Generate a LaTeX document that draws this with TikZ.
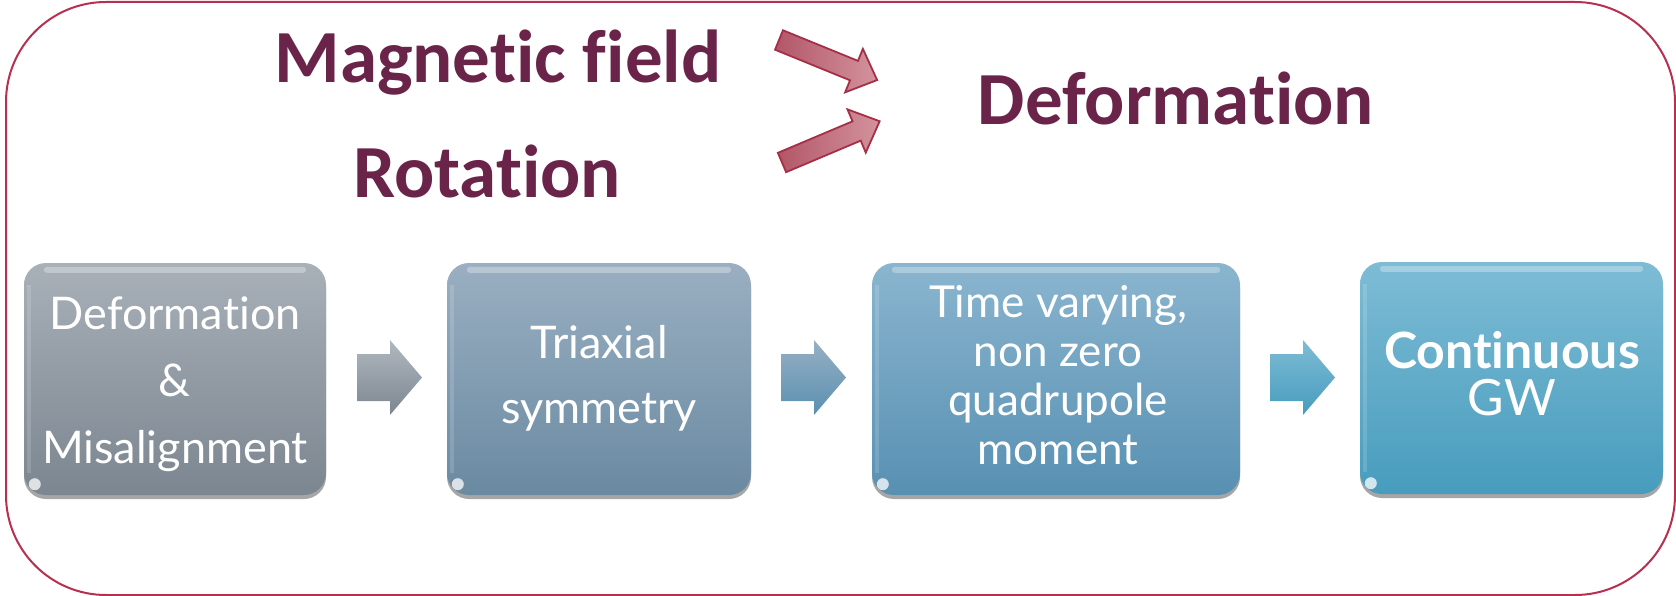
\documentclass[tikz,border=0pt]{standalone}
\usepackage{fontspec}
\setmainfont[Ligatures=NoCommon]{Lato}
\newfontfamily\calib[Ligatures=NoCommon]{Carlito}
\newcommand{\nolig}{\kern0pt }
\usetikzlibrary{shadows,calc}
\definecolor{frame}{HTML}{B8304F}
\definecolor{maroon}{HTML}{6B2449}
\definecolor{gA}{HTML}{A8B0B8}\definecolor{gB}{HTML}{7C8690}
\definecolor{sA}{HTML}{9AAFC1}\definecolor{sB}{HTML}{6A8AA2}
\definecolor{mA}{HTML}{8AB5CF}\definecolor{mB}{HTML}{5890B2}
\definecolor{cA}{HTML}{7EBCD5}\definecolor{cB}{HTML}{479CBD}
\definecolor{rA}{HTML}{B25668}\definecolor{rB}{HTML}{D3939D}\definecolor{rD}{HTML}{A62F48}
\tikzset{
  x=1pt, y=-1pt,
  gbox/.style={rounded corners=22pt, minimum height=232pt, inner sep=0pt,
    drop shadow={shadow xshift=0pt, shadow yshift=-4pt, opacity=0.35, fill=black}},
  btext/.style={text=white, align=center, inner sep=0pt},
  bigtext/.style={text=maroon, font=\calib\bfseries\fontsize{75}{80}\selectfont, inner sep=0pt, anchor=base},
  sarrow/.pic={\path[pic actions] (0,-23.5) -- (33,-23.5) -- (33,-37.5) -- (65,0) -- (33,37.5) -- (33,23.5) -- (0,23.5) -- cycle;},
  rarrow/.pic={\path[pic actions] (0,-10.5) -- (81,-10.5) -- (81,-23.5) -- (106,0) -- (81,23.5) -- (81,10.5) -- (0,10.5) -- cycle;},
  sshadow/.style={drop shadow={shadow xshift=1pt, shadow yshift=-3pt, opacity=0.3, fill=black}},
}
\newcommand{\gloss}[1]{%
  \fill[white, opacity=0.3, rounded corners=3pt] ($(#1.north west)+(20,4)$) rectangle ($(#1.north east)+(-20,10)$);
  \fill[white, opacity=0.15] ($(#1.north west)+(3,22)$) rectangle ($(#1.south west)+(7,-22)$);
  \fill[white, opacity=0.75] ($(#1.south west)+(11,-11)$) circle (6pt);
}
\begin{document}
\begin{tikzpicture}
\useasboundingbox (0,0) rectangle (1676,596);
\draw[frame, line width=2pt, rounded corners=100pt] (6,2) rectangle (1675,595);

% headline texts
\node[bigtext] (mag) at (498,83) {Magnet\nolig ic f\nolig ield};
\node[bigtext] (rot) at (487,198) {Rotat\nolig ion};
\node[bigtext] (def) at (1176,125) {Deformat\nolig ion};

% red block arrows
\pic[draw=rD, line width=1.8pt, left color=rA, right color=rB, rotate=-22.2] (r1) at (779,40) {rarrow};
\pic[draw=rD, line width=1.8pt, left color=rA, right color=rB, rotate=22.9] (r2) at (782,162.5) {rarrow};

% process boxes
\node[gbox, minimum width=302pt, top color=gA, bottom color=gB] (b1) at (175,379) {};
\node[gbox, minimum width=304pt, top color=sA, bottom color=sB] (b2) at (599,379) {};
\node[gbox, minimum width=368pt, top color=mA, bottom color=mB] (b3) at (1056,379) {};
\node[gbox, minimum width=303pt, top color=cA, bottom color=cB] (b4) at (1511.5,378) {};
\gloss{b1}\gloss{b2}\gloss{b3}\gloss{b4}

\node[btext, font=\fontsize{45}{67}\selectfont] (t1) at (175,384) {Deformat\nolig ion\\\&\\Misalignment};
\node[btext, font=\fontsize{45}{65}\selectfont] (t2) at (599,378) {Triaxial\\symmetry};
\node[btext, font=\fontsize{44}{49}\selectfont] (t3) at (1058,375) {Time varying,\\non zero\\quadrupole\\moment};
\node[btext, font=\fontsize{50}{47}\selectfont] (t4) at (1512,374) {\textbf{Continuous}\\GW};

% small block arrows between boxes
\pic[top color=gA!90!white, bottom color=gB, sshadow] (a1) at (357,377.5) {sarrow};
\pic[top color=sA!80!mA, bottom color=mB!90!sB, sshadow] (a2) at (781,377.5) {sarrow};
\pic[top color=cA, bottom color=cB, sshadow] (a3) at (1270,377.5) {sarrow};
\end{tikzpicture}
\end{document}
